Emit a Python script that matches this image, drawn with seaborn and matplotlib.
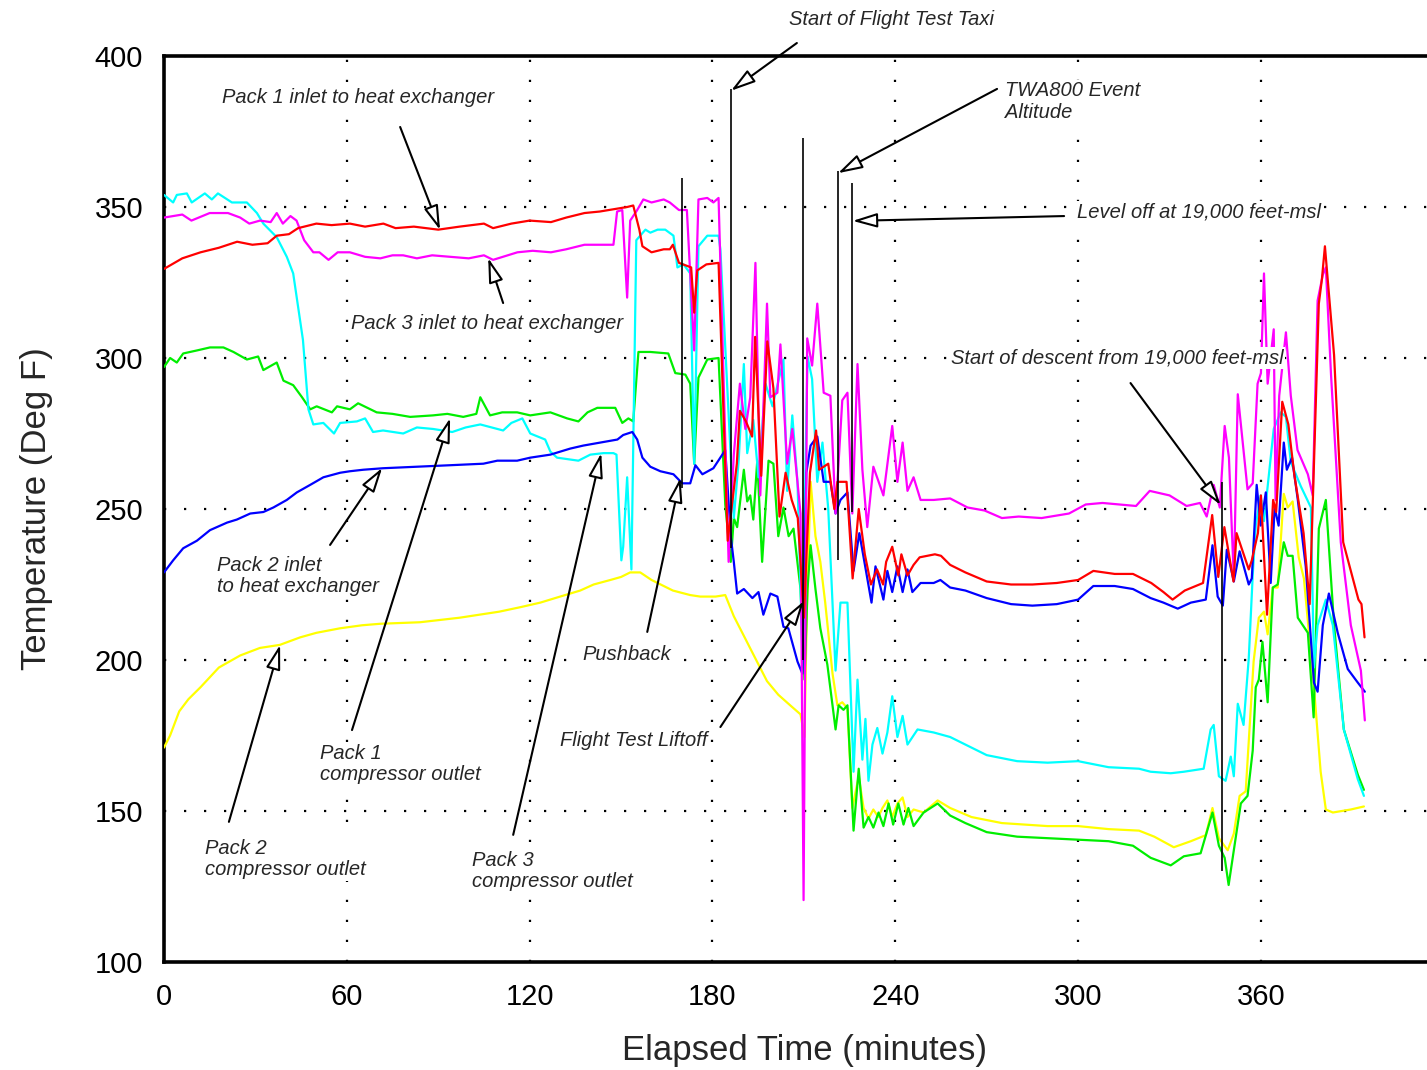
import matplotlib
matplotlib.use("Agg")
import matplotlib.pyplot as plt
import numpy as np
import pandas as pd
import seaborn as sns
from matplotlib.ticker import MultipleLocator

# ---------------- data (elapsed minutes, temperature deg F) ----------------
series_order = ["Pack 2 compressor outlet", "Pack 1 compressor outlet",
                "Pack 3 compressor outlet", "Pack 2 inlet",
                "Pack 3 inlet", "Pack 1 inlet"]
series_colors = ["#ffff00", "#00ee00", "#00ffff", "#0000ff", "#ff00ff", "#ff0000"]

pack1_inlet = [(0, 329.5), (6, 333), (12, 335), (18, 336.5), (24, 338.5), (29, 337.5), (34, 338),
    (37, 340.5), (41, 341), (44, 343), (50, 344.5), (55, 344), (61, 344.5), (66, 343.5), (72, 344.5),
    (76, 343), (82, 343.5), (90, 342.5), (97, 343.5), (105, 344.5), (108, 343), (114, 344.5),
    (120, 345.5), (127, 345), (132, 346.5), (138, 348), (143, 348.5), (149, 349.5), (152, 350),
    (154, 350.5), (156, 342.5), (157, 337), (160, 335), (164, 336), (166, 336), (167, 337.5),
    (169, 331.5), (173, 330), (174, 315), (175, 329), (178, 331), (182, 331.5), (185, 239.5),
    (188, 265), (189, 282.5), (191, 279), (193, 274), (194, 307), (196, 261), (198, 305.5),
    (200, 290), (202, 247.5), (204, 262), (206, 253), (208, 247), (210, 214), (212, 262),
    (214, 276), (215, 263), (218, 265), (220, 250), (221, 259), (224, 259), (226, 227), (228, 250),
    (230, 235), (232, 225), (234, 230), (236, 225), (237, 232.5), (239, 237.5), (241, 228),
    (242, 235), (244, 228), (246, 231.5), (248, 234), (253, 235), (255, 234.5), (258, 231.5),
    (263, 229), (270, 226), (278, 225), (285, 225), (293, 225.5), (300, 226.5), (305, 229.5),
    (312, 228.5), (318, 228.5), (324, 225.5), (328, 222.5), (331, 220), (335, 223), (341, 225.5),
    (344, 248), (346, 227.5), (348, 244), (351, 226), (352, 242), (356, 230), (357, 233),
    (359, 242), (360, 254.5), (362, 215), (364, 253), (365, 249), (367, 285.5), (369, 278),
    (371, 261), (374, 242), (376, 218.5), (379, 318), (380, 326), (381, 337), (384, 301),
    (387, 239), (392, 220), (393, 218.5), (394, 207.5)]

pack3_inlet = [(0, 346.5), (6, 347.5), (9, 345.5), (15, 348), (21, 348), (25, 346.5), (28, 344.5),
    (31.5, 345.5), (35, 345), (37, 348), (39, 344.5), (41.5, 347), (43.5, 345.5), (46, 339),
    (49, 335), (51, 335), (54, 332.5), (57, 335), (61, 335), (66, 333.5), (71, 333), (75, 334),
    (78.5, 334), (83, 333), (88, 334), (94, 333.5), (100, 333), (105, 334), (108, 332.5),
    (116, 335), (121, 335.5), (127, 335), (132, 336), (138, 337.5), (147.5, 337.5), (148.7, 348.5),
    (150.4, 349), (152, 320), (153, 345.5), (155.3, 349), (157.3, 352.5), (160, 351.5),
    (164, 352.5), (166, 351.5), (169, 349), (171.6, 349), (174, 302.5), (175.4, 352.5),
    (178.3, 353), (180.3, 351.5), (182, 353), (185.3, 232.5), (187, 268), (189, 291.5),
    (190.8, 276.5), (192.4, 287), (194.1, 331.5), (195.7, 254.5), (197.9, 318), (199, 287),
    (201.3, 288.5), (202.3, 304.5), (204.5, 265), (206.2, 276.5), (208.9, 248.5), (209.9, 120.5),
    (211.1, 306.5), (212.7, 297.5), (214.4, 318), (216.5, 288.5), (218.7, 287.5), (220.4, 248.5),
    (222.6, 286), (224.3, 288.5), (225.9, 248.5), (227.6, 298), (229.2, 263), (230.8, 244),
    (232.8, 264), (236.1, 254.5), (239, 277.5), (240.7, 259), (242.4, 272), (244, 256),
    (246, 260.5), (248.3, 253), (252.6, 253), (258, 253.5), (263.7, 250.5), (269.3, 249.5),
    (275, 247), (280.5, 247.5), (288, 247), (297, 248.5), (302.5, 251.5), (308, 252), (319, 251),
    (323.5, 256), (330, 254.5), (335.6, 251), (340, 252), (342.2, 247.5), (344.5, 258),
    (346.5, 250.5), (348.1, 277.5), (349.5, 267), (351.1, 227), (352.4, 288), (355.6, 256.5),
    (357.3, 258.5), (358.9, 291.5), (360, 295), (361, 328), (362.2, 291.5), (364.2, 309.5),
    (364.8, 253), (366, 287.5), (368.2, 308.5), (369.8, 287.5), (372, 269.5), (375.4, 261.5),
    (377, 254.5), (378.6, 319), (380.3, 327.5), (381.3, 330), (383, 294.5), (386.2, 239),
    (389.5, 211.5), (392.8, 196.5), (394.1, 180)]

pack3_comp_outlet = [(0, 354), (3, 351.5), (4.2, 354), (7.5, 354.5), (9.1, 351.5), (13.4, 354.5),
    (15.7, 352.5), (17.7, 354.5), (22.3, 351.5), (27.2, 351.5), (30.5, 348), (32.6, 344.5),
    (37, 340), (40.3, 333.5), (42.4, 328), (44, 317), (45.6, 306), (47.4, 283), (49, 278),
    (52.3, 278.5), (55.8, 275), (57.8, 278.5), (63.3, 279), (66, 280), (68.6, 275.5), (71.9, 276),
    (78.5, 275), (83, 277), (88.3, 276.5), (94.6, 275.5), (99, 277), (103.8, 278), (111.3, 276),
    (114, 278.5), (117.6, 280), (120.2, 275), (125.1, 273), (126.8, 269), (129, 267), (136, 266),
    (139.9, 268), (144.2, 268.5), (147.5, 268.5), (148.5, 268), (150.1, 233), (150.7, 237.5),
    (152, 260.5), (153.4, 230), (155, 339), (156.3, 340.5), (158, 342.5), (159.6, 341.5),
    (162, 342.5), (164.5, 342.5), (167.2, 340.5), (168.5, 330), (170.5, 331), (172.7, 328),
    (174, 265), (175.4, 337), (178.3, 340.5), (182, 340.5), (182.6, 336), (187, 247),
    (188.6, 266), (190.3, 298), (191.4, 268.5), (193.4, 279.5), (195.1, 260.5), (197.4, 291.5),
    (199.7, 284), (203.3, 299.5), (204.5, 256), (206.2, 281), (207.9, 259), (209.5, 202.5),
    (210.8, 279.5), (211.2, 300.5), (212.7, 293), (214.4, 259), (216.1, 272), (218, 250),
    (220.4, 196.5), (222, 219), (224.3, 219), (226.3, 163), (227.6, 193.5), (229.2, 167),
    (230.2, 180.5), (231.2, 160), (232.5, 172), (234.1, 177.5), (235.8, 169), (237.4, 176),
    (239, 188), (240.7, 174.5), (242.4, 181.5), (244, 172), (247.3, 177), (252.6, 176),
    (258, 174.5), (263, 172), (270, 168.5), (280, 166.5), (290, 166), (300, 166.5), (310, 164.5),
    (320, 164), (323.8, 163), (330.4, 162.5), (334.7, 163), (341.2, 164), (343.5, 177),
    (344.5, 178.5), (346.2, 161.5), (348.4, 160), (350.1, 168), (351.1, 161.5), (352.4, 185.5),
    (354.3, 178.5), (356, 200.5), (357.3, 228), (358.3, 244.5), (359.9, 254.5), (361, 246),
    (364.2, 276.5), (366.5, 282), (368.2, 280.5), (369.8, 265.5), (373.1, 257.5), (376.4, 250.5),
    (377.4, 197.5), (378.6, 211.5), (381.3, 220), (383.6, 211.5), (387.2, 177), (391.8, 160.5),
    (393.8, 155)]

pack1_comp_outlet = [(0, 297), (2, 300), (4.2, 298.5), (6.3, 301.5), (10.8, 302.5), (15.1, 303.5),
    (19.5, 303.5), (22.8, 302), (27.2, 299.5), (30.9, 300.5), (32.6, 296), (37, 298.5),
    (39.2, 292.5), (42.4, 291), (45.3, 287), (48, 283), (50.1, 284), (55.1, 282), (56.8, 284),
    (61, 283), (63.7, 285), (69.8, 282), (75, 281.5), (80.8, 280.5), (88.3, 281), (93, 281.5),
    (98.2, 280.5), (102.5, 281.5), (103.8, 287), (107, 281), (111, 282), (115.9, 282),
    (120.2, 281), (126.8, 282), (132.3, 280), (136, 279), (139, 282), (142.2, 283.5),
    (148.1, 283.5), (150.4, 278.5), (152.4, 280), (154, 279), (155.7, 302), (159.6, 302),
    (165.5, 301.5), (167.8, 295), (171.1, 294.5), (172.7, 291.5), (174, 265), (175.4, 293.5),
    (178.3, 299.5), (182, 300), (184.2, 251.5), (186, 232.5), (187, 247), (188.1, 244),
    (190.3, 263), (191.4, 252.5), (192.4, 254.5), (193.4, 246.5), (194.7, 266), (196.3, 232.5),
    (198.4, 266), (200, 265), (201.6, 241), (203.3, 250.5), (205, 241), (206.6, 243.5),
    (208.9, 223.5), (210.2, 193.5), (211.2, 223.5), (212.2, 238), (213.8, 223.5), (215.4, 210.5),
    (217.7, 198.5), (219.4, 185), (220.4, 177), (221.4, 185), (223, 183.5), (224.3, 185),
    (226.3, 143.5), (228, 164), (229.6, 144.5), (231.2, 148), (232.8, 144.5), (234.5, 149.5),
    (236.1, 145), (237.8, 152.5), (239.3, 145.5), (241, 152.5), (242.7, 145.5), (244.3, 151),
    (246, 145), (249.3, 149.5), (253.9, 152.5), (258, 148.5), (263, 146), (270, 143),
    (280, 141.5), (290, 141), (300, 140.5), (310, 140), (318, 138.5), (323.8, 134.5),
    (330.4, 132), (334.7, 135), (340.2, 136), (344.1, 149.5), (346.2, 138.5), (348.1, 134.5),
    (349.4, 125.5), (351.1, 137), (353.4, 152.5), (355.6, 155), (357.3, 170), (358.3, 191),
    (359.3, 193.5), (360.5, 206), (362.2, 186), (363.9, 224), (365.5, 225), (367.5, 239),
    (368.8, 234.5), (370.4, 234.5), (372.1, 214), (375.4, 209), (377.3, 181), (379, 243.5),
    (381.3, 253), (384, 211.5), (387.2, 177), (391.8, 162), (393.8, 157)]

pack2_inlet = [(0, 229), (3, 233), (6.3, 237), (10.8, 239.5), (15.1, 243), (20.7, 245.5),
    (23.9, 246.5), (28.3, 248.5), (32.6, 249), (35.9, 250.5), (40.3, 253), (43.6, 255.5),
    (48, 258), (52.3, 260.5), (57.8, 262), (61, 262.5), (65.4, 263), (71.9, 263.5), (83, 264),
    (94, 264.5), (104.8, 265), (109.4, 266), (115.9, 266), (120.2, 267), (126.8, 268),
    (133.3, 270), (137.6, 271), (143.2, 272), (148.8, 273), (150.7, 274.5), (153.7, 275.5),
    (155.3, 273), (157, 267), (159.6, 264), (162.9, 262.5), (167.2, 261.5), (170.1, 258.5),
    (172.7, 258.5), (174.4, 264.5), (176.7, 261.5), (180.3, 263.5), (184.2, 269.5), (186, 241),
    (187, 232.5), (188.1, 222), (190.3, 223.5), (193.1, 220.5), (195.1, 222.5), (196.7, 215),
    (199, 222), (201.3, 221), (203.3, 211), (204.9, 210.5), (207.9, 199.5), (209.5, 195.5),
    (210.8, 262), (212.2, 271), (214.4, 274), (216.5, 259), (218.7, 259), (220.4, 248.5),
    (222, 253), (224.3, 255.5), (226.3, 229.5), (228.2, 242), (229.6, 234), (232.2, 219),
    (233.5, 231), (236.1, 220), (237.4, 229.5), (239, 222.5), (240.7, 231), (242.4, 222.5),
    (244, 230), (245.6, 222.5), (248.3, 225.5), (252.6, 225.5), (254.8, 226.5), (258, 224),
    (263, 223), (270, 220.5), (278, 218.5), (285, 218), (293, 218.5), (300, 220), (305, 224.5),
    (312, 224.5), (318, 223.5), (323.8, 220.5), (328, 219), (332.7, 217), (337, 219),
    (341.9, 220), (344.1, 238), (345.8, 221), (347.5, 218), (348.8, 236.5), (351.1, 226),
    (353, 236), (356, 225), (357, 227), (358.6, 258), (359.9, 244.5), (361.6, 255.5),
    (363.2, 225.5), (364.5, 250.5), (365.8, 244.5), (367.5, 272), (368.5, 263), (370.2, 267),
    (372.1, 253), (374.7, 231), (377.4, 192.5), (378.6, 189.5), (380.3, 211.5), (382.3, 222),
    (385.2, 209), (388.5, 197), (391.8, 192.5), (394.1, 189.5)]

pack2_comp_outlet = [(0, 171), (2, 175), (5, 183), (8, 187), (12, 191), (18, 197.5), (25, 201.5),
    (31.5, 204), (38, 205), (44.7, 207.5), (50, 209), (57.8, 210.5), (65, 211.5), (71, 212),
    (84, 212.5), (97, 214), (110, 216), (117, 217.5), (123.5, 219), (130, 221), (136.6, 223),
    (141, 225), (146.5, 226.5), (150, 227.5), (153, 229), (156.3, 229), (160, 226.5), (163, 225),
    (167, 223), (172.7, 221.5), (176, 221), (179.3, 221), (181, 221), (184.2, 221.5),
    (187, 214.5), (190.3, 208), (194.6, 199.5), (197.9, 193), (201.6, 188.5), (205.5, 185),
    (208.9, 182), (210.2, 174.5), (211, 217.5), (212.2, 259), (213.8, 241), (215.4, 232.5),
    (217, 219), (219.4, 195.5), (221, 185), (222.6, 186), (224.3, 184), (225.9, 151),
    (228, 161.5), (229.6, 151), (231.2, 147.5), (232.8, 150.5), (234.4, 148), (235.8, 151),
    (237.4, 153.5), (239, 148), (240.7, 152.5), (242.4, 154.5), (244, 148), (246, 150.5),
    (249.3, 149.5), (253.9, 153.5), (258, 151), (265, 148), (275, 146), (290, 145), (300, 145),
    (310, 144), (320, 143.5), (325, 141.5), (331.4, 138), (337, 140), (341.9, 142), (344.1, 151),
    (346.2, 141), (349.1, 137), (351.1, 142.5), (353, 155), (355, 156.5), (357.6, 199.5),
    (359.3, 214), (361, 216), (362.2, 208.5), (363.9, 224), (365.5, 224), (367.5, 255),
    (368.8, 250.5), (370.4, 252.5), (372.4, 234), (374.1, 227), (377.4, 191), (379.6, 163),
    (381.3, 150.5), (383.6, 149.5), (389.5, 150.5), (393.8, 151.5)]

series_points = [pack2_comp_outlet, pack1_comp_outlet, pack3_comp_outlet,
                 pack2_inlet, pack3_inlet, pack1_inlet]

# flight events: vertical marker lines (time, bottom temp, top temp)
event_time = [170.1, 186.1, 209.8, 221.2, 225.8, 347.2]
event_low = [257, 237, 200, 233, 249, 130]
event_high = [359.5, 389, 373, 362, 358, 259]

# annotation texts (left x, center y) and arrows (tail -> tip)
labels = ["Pack 1 inlet to heat exchanger", "Pack 3 inlet to heat exchanger",
          "Pack 2 inlet\nto heat exchanger", "Pack 1\ncompressor outlet",
          "Pack 2\ncompressor outlet", "Pack 3\ncompressor outlet", "Pushback",
          "Flight Test Liftoff", "Start of Flight Test Taxi", "TWA800 Event\nAltitude",
          "Level off at 19,000 feet-msl", "Start of descent from 19,000 feet-msl"]
label_x = [19.0, 61.4, 17.4, 51.2, 13.5, 101.1, 137.2, 130.0, 205.1, 276.0, 299.6, 258.3]
label_y = [386.1, 311.3, 227.8, 165.6, 134.1, 130.1, 201.7, 173.2, 412.0, 384.9, 348.3, 300.0]
arrow_tail = [(77.5, 376.5), (111.3, 318.2), (54.5, 238.1), (61.7, 176.8), (21.3, 146.4),
              (114.6, 142.1), (158.6, 209.3), (182.6, 177.8), (207.7, 404.3), (273.4, 389.1),
              (295.4, 347.0), (317.2, 291.7)]
arrow_tip = [(90.6, 342.4), (106.4, 333.1), (71.6, 263.6), (93.9, 280.1), (38.1, 205.0),
             (143.5, 268.5), (169.5, 260.3), (210.0, 219.5), (186.1, 388.5), (221.2, 361.2),
             (226.0, 345.4), (346.8, 251.3)]

# ---------------- build long-form table ----------------
rows = []
for name, pts in zip(series_order, series_points):
    for t, v in pts:
        rows.append((name, t, v))
df = pd.DataFrame(rows, columns=["series", "time", "temp"])

# ---------------- plot ----------------
sns.set_style("white")
plt.rcParams["font.family"] = ["Liberation Sans", "DejaVu Sans"]

W, H = 1427, 1070
fig = plt.figure(figsize=(W / 100, H / 100), dpi=100)
ax = fig.add_axes([164 / W, 1 - 962 / H, 1 - 164 / W, (962 - 56) / H])

sns.lineplot(data=df, x="time", y="temp", hue="series", hue_order=series_order,
             palette=dict(zip(series_order, series_colors)), estimator=None, sort=False,
             linewidth=1.6, legend=False, ax=ax, zorder=3)

ax.vlines(event_time, event_low, event_high, color="black", linewidth=1.2, zorder=4)

for tail, tip in zip(arrow_tail, arrow_tip):
    ax.annotate("", xy=tip, xytext=tail, annotation_clip=False, zorder=6,
                arrowprops=dict(arrowstyle="-|>,head_length=0.75,head_width=0.22",
                                fc="white", ec="black", lw=1.5, mutation_scale=20,
                                shrinkA=0, shrinkB=0))

for s, x, y in zip(labels, label_x, label_y):
    ax.text(x, y, s, fontsize=14.5, style="italic", ha="left", va="center",
            linespacing=1.15, zorder=5, clip_on=False,
            bbox=dict(facecolor="white", edgecolor="none", pad=1.0))

ax.set_xlim(0, 414.5)
ax.set_ylim(100, 400)
ax.xaxis.set_major_locator(MultipleLocator(60))
ax.xaxis.set_minor_locator(MultipleLocator(10))
ax.yaxis.set_major_locator(MultipleLocator(50))
ax.yaxis.set_minor_locator(MultipleLocator(10))

ax.grid(True, which="major", color="black", linestyle=(0, (1, 8)), linewidth=1.6, zorder=1)
ax.set_axisbelow(True)

ax.tick_params(which="both", direction="in", top=False, right=False, width=1.3,
               labelsize=21, pad=15, colors="black")
ax.tick_params(which="major", length=9)
ax.tick_params(which="minor", length=7)

for side in ["left", "bottom", "top"]:
    ax.spines[side].set_linewidth(2.6)
    ax.spines[side].set_color("black")
ax.spines["right"].set_visible(False)

ax.set_xlabel("Elapsed Time (minutes)", fontsize=25, labelpad=17)
ax.xaxis.label.set_x(0.5075)
ax.set_ylabel("Temperature (Deg F)", fontsize=25, labelpad=30)

fig.savefig("out.png", dpi=100)
